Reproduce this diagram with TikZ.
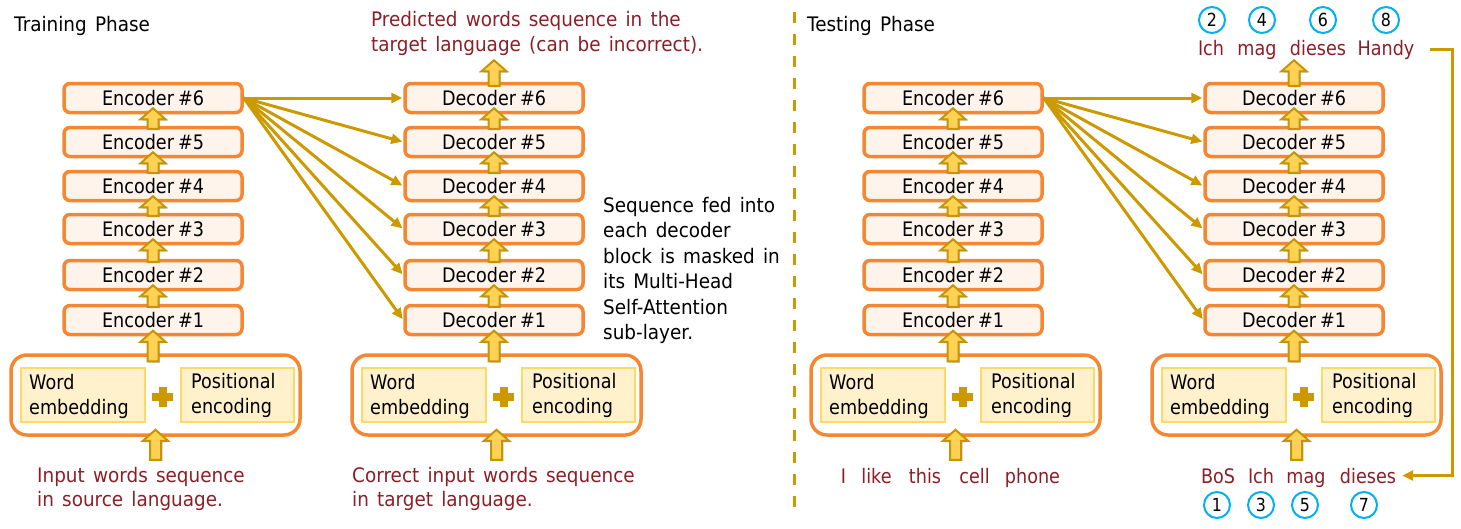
\documentclass[tikz,border=0pt]{standalone}
\usepackage{fontspec}
\setmainfont[FakeStretch=0.88]{DejaVu Sans}
\newfontfamily\wfont[FakeStretch=0.92,WordSpace=1.4]{DejaVu Sans}
\usetikzlibrary{arrows.meta,shadows,calc}
\definecolor{boxor}{RGB}{246,135,50}
\definecolor{boxfill}{RGB}{254,244,236}
\definecolor{infill}{RGB}{255,241,204}
\definecolor{indraw}{RGB}{255,217,102}
\definecolor{gold}{RGB}{204,153,0}
\definecolor{arrfill}{RGB}{255,210,85}
\definecolor{arrdraw}{RGB}{196,150,5}
\definecolor{dred}{RGB}{140,30,40}
\definecolor{cyanc}{RGB}{0,176,240}
\newcommand\fsz{\fontsize{20}{24}\selectfont}
\newcommand\wsz{\wfont\fontsize{20}{24}\selectfont}
\newcommand\nsz{\fontsize{18}{22}\selectfont}
\tikzset{
  stackbox/.style={draw=boxor, fill=boxfill, line width=3.5pt, rounded corners=6pt,
    minimum width=178, minimum height=29, inner sep=0, font=\fsz},
  embouter/.style={draw=boxor, fill=white, line width=3.5pt, rounded corners=16pt,
    minimum width=289, minimum height=80, inner sep=0},
  inbox/.style={draw=indraw, fill=infill, line width=2pt, inner sep=0},
  lbl/.style={anchor=base west, inner sep=0, font=\fsz},
  wlbl/.style={anchor=base west, inner sep=0, font=\wsz},
  rlbl/.style={anchor=base west, inner sep=0, font=\wsz, text=dred},
  word/.style={anchor=base, inner sep=0, font=\fsz, text=dred},
  num/.style={circle, draw=cyanc, line width=2pt, minimum size=26, inner sep=0, font=\nsz},
  blockarr/.style={draw=arrdraw, fill=arrfill, line width=2pt, line join=miter,
    drop shadow={opacity=0.3, shadow xshift=1.5pt, shadow yshift=-1.5pt}},
  fan/.style={draw=gold, line width=3pt, -{Triangle[length=11pt,width=10pt]}, shorten >=1pt},
  feed/.style={draw=gold, line width=3pt, -{Triangle[length=11pt,width=10pt]}},
  divider/.style={draw=gold, line width=3pt, dash pattern=on 11pt off 11pt}
}
% block arrow from base point #1 to tip point #2
\newcommand\barr[2]{%
  \filldraw[blockarr] let \p1=(#1), \p2=(#2) in
    (\x2-5.5pt,\y1) -- (\x2-5.5pt,\y2-11pt) -- (\x2-12.5pt,\y2-11pt) -- (\x2,\y2)
    -- (\x2+12.5pt,\y2-11pt) -- (\x2+5.5pt,\y2-11pt) -- (\x2+5.5pt,\y1) -- cycle;}
% #1 prefix, #2 x offset, #3 word
\newcommand\stackcol[3]{%
  \foreach \i/\y in {1/320,2/275,3/229,4/186,5/142,6/98}
    \node[stackbox] (#1\i) at ({#2+153},\y) {#3\hspace{4pt}\#\i};
  \node[embouter] (#1emb) at ({#2+155.5},395) {};
  \node[inbox, minimum width=124, minimum height=54] (#1w) at ({#2+83},395) {};
  \node[inbox, minimum width=113, minimum height=54] (#1p) at ({#2+237.5},395) {};
  \node[lbl] (#1wa) at ({#2+29},389) {Word};
  \node[lbl] (#1wb) at ({#2+29},414) {embedding};
  \node[lbl] (#1pa) at ({#2+191},388) {Positional};
  \node[lbl] (#1pb) at ({#2+191},413) {encoding};
  \fill[gold] ({#2+158.5},386.5) rectangle ({#2+166.5},406.5);
  \fill[gold] ({#2+152},392.5) rectangle ({#2+173},400.5);
  \foreach \a/\b in {1/2,2/3,3/4,4/5,5/6}
    \barr{$(#1\a.north)+(0,3)$}{$(#1\b.south)+(0,-6)$};
  \barr{$(#1emb.north)+(0,8)$}{$(#11.south)+(0,-5.5)$};
  \barr{$(#1emb.south)+(0,23)$}{$(#1emb.south)+(0,-7)$};
}
\begin{document}
\begin{tikzpicture}[x=1pt,y=-1pt]
\useasboundingbox (0,0) rectangle (1461,528);
% ---------- Training phase ----------
\node[wlbl] (ttrain) at (14,31) {Training Phase};
\stackcol{e}{0}{Encoder}
\stackcol{d}{341}{Decoder}
\barr{$(d6.north)+(0,4)$}{$(d6.north)+(0,-21.5)$};
\foreach \i in {1,...,6} \draw[fan] (e6.east) -- (d\i.west);
\node[rlbl] (pr1) at (371,26) {Predicted words sequence in the};
\node[rlbl] (pr2) at (371,51) {target language (can be incorrect).};
\node[rlbl] (in1) at (37,482) {Input words sequence};
\node[rlbl] (in2) at (37,506) {in source language.};
\node[rlbl] (ci1) at (352,482) {Correct input words sequence};
\node[rlbl] (ci2) at (352,506) {in target language.};
\node[wlbl] (m1) at (603,212) {Sequence fed into};
\node[wlbl] (m2) at (603,237.5) {each decoder};
\node[wlbl] (m3) at (603,263) {block is masked in};
\node[wlbl] (m4) at (603,288.5) {its Multi-Head};
\node[wlbl] (m5) at (603,314) {Self-Attention};
\node[wlbl] (m6) at (603,339.5) {sub-layer.};
% ---------- divider ----------
\coordinate (dvt) at (794,12);
\coordinate (dvb) at (794,512);
\draw[divider] (dvt) -- (dvb);
% ---------- Testing phase ----------
\node[wlbl] (ttest) at (807,31) {Testing Phase};
\stackcol{te}{800}{Encoder}
\stackcol{td}{1141}{Decoder}
\barr{$(td6.north)+(0,4)$}{$(td6.north)+(0,-21.5)$};
\foreach \i in {1,...,6} \draw[fan] (te6.east) -- (td\i.west);
% source sentence
\node[word] (s1) at (843.5,483) {I};
\node[word] (s2) at (876.5,483) {like};
\node[word] (s3) at (925,483) {this};
\node[word] (s4) at (974.5,483) {cell};
\node[word] (s5) at (1032.5,483) {phone};
% output words
\node[word] (tI) at (1211,55) {Ich};
\node[word] (tM) at (1257,55) {mag};
\node[word] (tD) at (1318,55) {dieses};
\node[word] (tH) at (1386,55) {Handy};
\node[num] (n2) at (1212,20) {2};
\node[num] (n4) at (1262,20) {4};
\node[num] (n6) at (1323,20) {6};
\node[num] (n8) at (1386,20) {8};
% input words
\node[word] (bB) at (1218,483) {BoS};
\node[word] (bI) at (1261,483) {Ich};
\node[word] (bM) at (1306,483) {mag};
\node[word] (bD) at (1368,483) {dieses};
\node[num] (n1) at (1217,505) {1};
\node[num] (n3) at (1261,505) {3};
\node[num] (n5) at (1305,505) {5};
\node[num] (n7) at (1364,505) {7};
\draw[feed] ([xshift=15pt]tH.east) -- ++(23,0) |- ([xshift=6pt]bD.east);
\end{tikzpicture}
\end{document}
